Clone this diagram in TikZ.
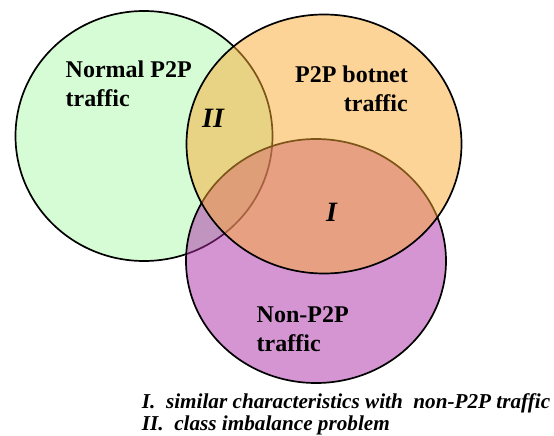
\documentclass[tikz,border=0pt]{standalone}
\usepackage{fontspec}
\setmainfont{Liberation Serif}
\begin{document}
\begin{tikzpicture}[x=1pt,y=-1pt,
  setline/.style={line width=1.7pt, draw=black},
  setlabel/.style={font=\fontsize{24}{28}\selectfont\bfseries, inner sep=0pt},
  regionmark/.style={font=\fontsize{28}{32}\selectfont\bfseries\itshape, inner sep=0pt},
  legendline/.style={font=\fontsize{21.2}{25}\selectfont\bfseries\itshape, inner sep=0pt}]
\definecolor{normalfill}{RGB}{214,252,214}
\definecolor{nonfill}{RGB}{173,45,169}
\definecolor{botfill}{RGB}{251,171,51}
\useasboundingbox (0,0) rectangle (554,436);
\fill[white] (0,0) rectangle (554,436);

% the three sets, bottom to top: normal, non-P2P, botnet
\draw[setline, fill=normalfill] (144,136) ellipse [x radius=128.5, y radius=125];
\draw[setline, fill=nonfill, fill opacity=0.5] (316,261) ellipse [x radius=130, y radius=122];
\draw[setline, fill=botfill, fill opacity=0.5] (324,144) ellipse [x radius=137.5, y radius=129.5];

% set names
\node[setlabel, anchor=base west] (normalA) at (65.5,77.7) {Normal P2P};
\node[setlabel, anchor=base west] (normalB) at (65.5,106) {traffic};
\node[setlabel, anchor=base east] (botA) at (408,82.7) {P2P botnet};
\node[setlabel, anchor=base east] (botB) at (408,111.7) {traffic};
\node[setlabel, anchor=base west] (nonA) at (256.5,322.7) {Non-P2P};
\node[setlabel, anchor=base west] (nonB) at (256.5,351.5) {traffic};

% overlap marks
\node[regionmark, anchor=base west] (markII) at (202,127.3) {II};
\node[regionmark, anchor=base west] (markI) at (326,221.7) {I};

% legend
\node[legendline, anchor=base west] (legI) at (141.7,408.3) {I.\ \ similar characteristics with\ \ non-P2P traffic};
\node[legendline, anchor=base west] (legII) at (141.7,430) {II.\ \ class imbalance problem};
\end{tikzpicture}
\end{document}
